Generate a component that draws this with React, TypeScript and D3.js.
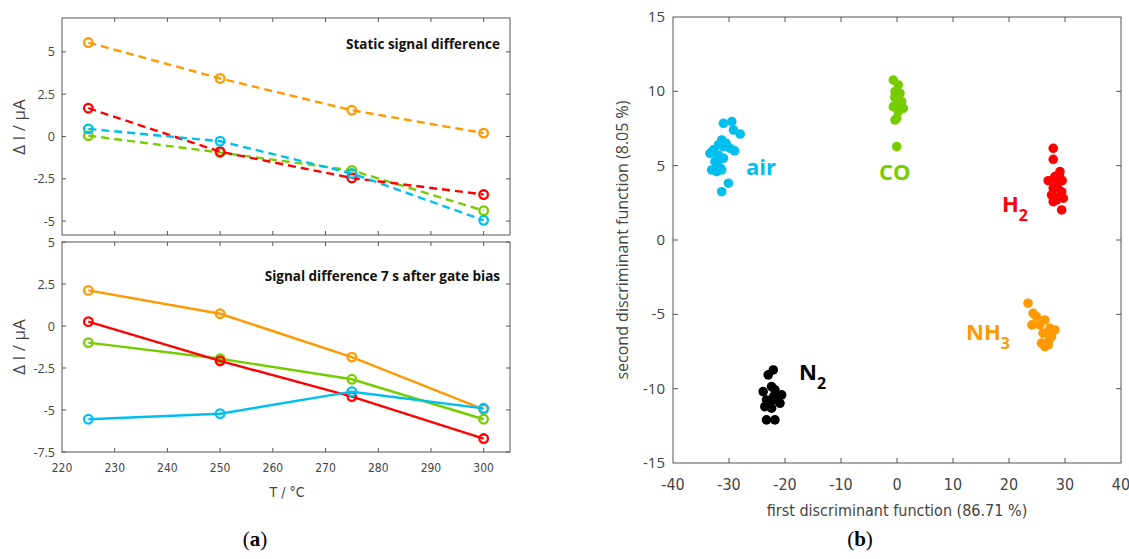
import React from "react";
import * as d3 from "d3";

// ---- data: left panels (temperatures in °C, ΔI in µA)
const temps = [225, 250, 275, 300];
const gasColors: Record<string, string> = {
  NH3: "#ff9900",
  H2: "#ff0000",
  CO: "#77cc00",
  air: "#00bfee",
  N2: "#000000",
};

const staticNH3 = [5.55, 3.43, 1.55, 0.2];
const staticH2 = [1.67, -0.9, -2.45, -3.43];
const staticAir = [0.45, -0.28, -2.18, -4.95];
const staticCO = [0.05, -0.95, -2.0, -4.38];

const biasNH3 = [2.12, 0.73, -1.85, -4.96];
const biasH2 = [0.26, -2.08, -4.2, -6.7];
const biasCO = [-0.99, -1.95, -3.17, -5.55];
const biasAir = [-5.55, -5.22, -3.91, -4.9];

const leftXTicks = [220, 230, 240, 250, 260, 270, 280, 290, 300];
const topYTicks = [-5, -2.5, 0, 2.5, 5];
const bottomYTicks = [-7.5, -5, -2.5, 0, 2.5, 5];

// ---- data: right panel (LDA scores)
const airPts: [number, number][] = [
  [-31.0, 7.85], [-29.5, 7.96], [-29.2, 7.4], [-28.0, 7.13], [-31.3, 6.73],
  [-31.9, 6.39], [-31.0, 6.28], [-29.8, 6.17], [-32.8, 6.06], [-33.4, 5.83],
  [-31.9, 5.72], [-31.0, 5.5], [-32.5, 5.27], [-33.1, 4.71], [-31.3, 4.71],
  [-30.1, 3.82], [-31.3, 3.25], [-32.0, 5.0], [-30.5, 6.5], [-32.2, 4.6],
  [-29.0, 6.0], [-31.5, 4.8],
];
const coPts: [number, number][] = [
  [-0.66, 10.76], [0.23, 10.43], [-0.36, 9.98], [0.54, 9.87], [-0.05, 9.53],
  [0.84, 9.3], [-0.66, 8.97], [1.13, 8.86], [0.23, 8.63], [-0.05, 8.19],
  [-0.36, 8.07], [-0.05, 6.28], [0.3, 9.2], [-0.4, 9.6],
];
const h2Pts: [number, number][] = [
  [27.9, 6.17], [27.9, 5.43], [29.1, 4.6], [27.0, 3.99], [28.2, 4.26],
  [28.8, 3.82], [27.9, 3.48], [29.4, 3.25], [27.6, 3.03], [28.5, 2.69],
  [29.7, 2.81], [27.9, 2.58], [29.4, 2.02], [28.0, 4.1], [28.6, 3.6],
  [29.0, 4.4], [27.8, 3.0], [28.9, 2.9], [29.5, 4.0],
];
const nh3Pts: [number, number][] = [
  [23.4, -4.25], [24.3, -4.93], [24.9, -5.15], [26.4, -5.38], [24.1, -5.71],
  [25.5, -5.71], [27.3, -5.94], [28.2, -6.05], [26.1, -6.27], [27.6, -6.5],
  [25.8, -6.94], [27.0, -7.06], [26.4, -7.17], [27.2, -6.7],
];
const n2Pts: [number, number][] = [
  [-22.1, -8.74], [-23.0, -9.07], [-22.4, -9.86], [-23.9, -10.2], [-21.8, -10.08],
  [-20.6, -10.42], [-23.3, -10.76], [-21.5, -10.76], [-23.6, -11.21], [-22.4, -11.31],
  [-20.9, -10.98], [-23.3, -12.1], [-21.8, -12.1], [-22.8, -11.0], [-22.0, -10.5],
];

const rightXTicks = [-40, -30, -20, -10, 0, 10, 20, 30, 40];
const rightYTicks = [-15, -10, -5, 0, 5, 10, 15];

const axisColor = "#555";
const tickFont = "'DejaVu Sans Condensed', 'Liberation Sans Narrow', sans-serif";
const labelFont = "'Open Sans', 'Noto Sans', sans-serif";

type Series = { values: number[]; color: string };

function LinePanel(props: {
  top: number; bottom: number; yDomain: [number, number]; yTicks: number[];
  series: Series[]; dashed: boolean; title: string; titleY: number;
  showXLabels: boolean; ylabelY: number;
}) {
  const { top, bottom, yDomain, yTicks, series, dashed, title, titleY, showXLabels } = props;
  const left = 62, right = 510;
  const x = d3.scaleLinear().domain([220, 305]).range([left, right]);
  const y = d3.scaleLinear().domain(yDomain).range([bottom, top]);
  const line = d3.line<number>().x((_, i) => x(temps[i])).y(d => y(d));
  const tl = 4;
  return (
    <g>
      <rect x={left} y={top} width={right - left} height={bottom - top} fill="none" stroke={axisColor} strokeWidth={1} />
      {leftXTicks.filter(t => t > 220).map(t => (
        <g key={t}>
          <line x1={x(t)} x2={x(t)} y1={bottom} y2={bottom - tl} stroke={axisColor} />
          <line x1={x(t)} x2={x(t)} y1={top} y2={top + tl} stroke={axisColor} />
        </g>
      ))}
      {showXLabels && leftXTicks.map(t => (
        <text key={t} x={x(t)} y={bottom + 20} textAnchor="middle" fontFamily={tickFont} fontSize={12} fill="#444">{t}</text>
      ))}
      {yTicks.map(t => (
        <g key={t}>
          <line x1={left} x2={left + tl} y1={y(t)} y2={y(t)} stroke={axisColor} />
          <line x1={right} x2={right - tl} y1={y(t)} y2={y(t)} stroke={axisColor} />
          <text x={left - 7} y={y(t) + 4.5} textAnchor="end" fontFamily={labelFont} fontSize={12.5} fill="#444">{t}</text>
        </g>
      ))}
      <text transform={`translate(25,${props.ylabelY}) rotate(-90)`} textAnchor="middle" fontFamily={labelFont} fontSize={17} fill="#444">Δ I / µA</text>
      <text x={500} y={titleY} textAnchor="end" fontFamily={labelFont} fontWeight="bold" fontSize={13.5} fill="#111">{title}</text>
      {series.map((s, i) => (
        <g key={i}>
          <path d={line(s.values) || ""} fill="none" stroke={s.color} strokeWidth={2.4}
            strokeDasharray={dashed ? "8,5" : undefined} />
          {s.values.map((v, j) => (
            <circle key={j} cx={x(temps[j])} cy={y(v)} r={4.3} fill="none" stroke={s.color} strokeWidth={2.3} />
          ))}
        </g>
      ))}
    </g>
  );
}

function ScatterPanel() {
  const left = 673, right = 1121, top = 17, bottom = 463;
  const x = d3.scaleLinear().domain([-40, 40]).range([left, right]);
  const y = d3.scaleLinear().domain([-15, 15]).range([bottom, top]);
  const groups: { pts: [number, number][]; color: string }[] = [
    { pts: airPts, color: gasColors.air },
    { pts: coPts, color: gasColors.CO },
    { pts: h2Pts, color: gasColors.H2 },
    { pts: nh3Pts, color: gasColors.NH3 },
    { pts: n2Pts, color: gasColors.N2 },
  ];
  const tl = 5;
  return (
    <g>
      <rect x={left} y={top} width={right - left} height={bottom - top} fill="none" stroke={axisColor} strokeWidth={1} />
      {rightXTicks.map(t => (
        <g key={t}>
          {t > -40 && t < 40 && <line x1={x(t)} x2={x(t)} y1={bottom} y2={bottom - tl} stroke={axisColor} />}
          {t > -40 && t < 40 && <line x1={x(t)} x2={x(t)} y1={top} y2={top + tl} stroke={axisColor} />}
          <text x={x(t)} y={bottom + 27} textAnchor="middle" fontFamily={tickFont} fontSize={16} fill="#444">{t}</text>
        </g>
      ))}
      {rightYTicks.map(t => (
        <g key={t}>
          {t > -15 && t < 15 && <line x1={left} x2={left + tl} y1={y(t)} y2={y(t)} stroke={axisColor} />}
          {t > -15 && t < 15 && <line x1={right} x2={right - tl} y1={y(t)} y2={y(t)} stroke={axisColor} />}
          <text x={left - 8} y={y(t) + 5} textAnchor="end" fontFamily={labelFont} fontSize={15} fill="#444">{t}</text>
        </g>
      ))}
      <text transform={`translate(628,${(top + bottom) / 2}) rotate(-90)`} textAnchor="middle" fontFamily={labelFont} fontSize={16} fill="#444">second discriminant function (8.05 %)</text>
      <text x={(left + right) / 2} y={516} textAnchor="middle" fontFamily={tickFont} fontSize={16} fill="#444">first discriminant function (86.71 %)</text>
      {groups.map((g, i) => (
        <g key={i}>
          {g.pts.map((p, j) => (
            <circle key={j} cx={x(p[0])} cy={y(p[1])} r={4.8} fill={g.color} />
          ))}
        </g>
      ))}
      <g fontFamily={labelFont} fontWeight="bold" fontSize={22}>
        <text x={746} y={175} fill={gasColors.air}>air</text>
        <text x={879} y={180} fill={gasColors.CO}>CO</text>
        <text x={1002} y={212} fill={gasColors.H2}>H<tspan fontSize={16} dy={9}>2</tspan></text>
        <text x={966} y={340} fill={gasColors.NH3}>NH<tspan fontSize={16} dy={9}>3</tspan></text>
        <text x={799} y={380} fill={gasColors.N2}>N<tspan fontSize={16} dy={9}>2</tspan></text>
      </g>
    </g>
  );
}

export default function App() {
  return (
    <div style={{ position: "absolute", left: 0, top: 0 }}>
      <svg width={1129} height={559} style={{ display: "block", background: "#fff" }}>
        <LinePanel top={18} bottom={235} yDomain={[-5.82, 7]} yTicks={topYTicks}
          series={[
            { values: staticNH3, color: gasColors.NH3 },
            { values: staticCO, color: gasColors.CO },
            { values: staticH2, color: gasColors.H2 },
            { values: staticAir, color: gasColors.air },
          ]}
          dashed={true} title="Static signal difference" titleY={49} showXLabels={false} ylabelY={127} />
        <LinePanel top={242} bottom={452} yDomain={[-7.5, 5]} yTicks={bottomYTicks}
          series={[
            { values: biasNH3, color: gasColors.NH3 },
            { values: biasCO, color: gasColors.CO },
            { values: biasH2, color: gasColors.H2 },
            { values: biasAir, color: gasColors.air },
          ]}
          dashed={false} title="Signal difference 7 s after gate bias" titleY={281} showXLabels={true} ylabelY={347} />
        <text x={287} y={497} textAnchor="middle" fontFamily={tickFont} fontSize={14} fill="#444">T / °C</text>
        <text x={255} y={546} textAnchor="middle" fontFamily="'Liberation Serif', serif" fontSize={21} fill="#000">(<tspan fontWeight="bold">a</tspan>)</text>
        <text x={860} y={546} textAnchor="middle" fontFamily="'Liberation Serif', serif" fontSize={21} fill="#000">(<tspan fontWeight="bold">b</tspan>)</text>
        <ScatterPanel />
      </svg>
    </div>
  );
}
